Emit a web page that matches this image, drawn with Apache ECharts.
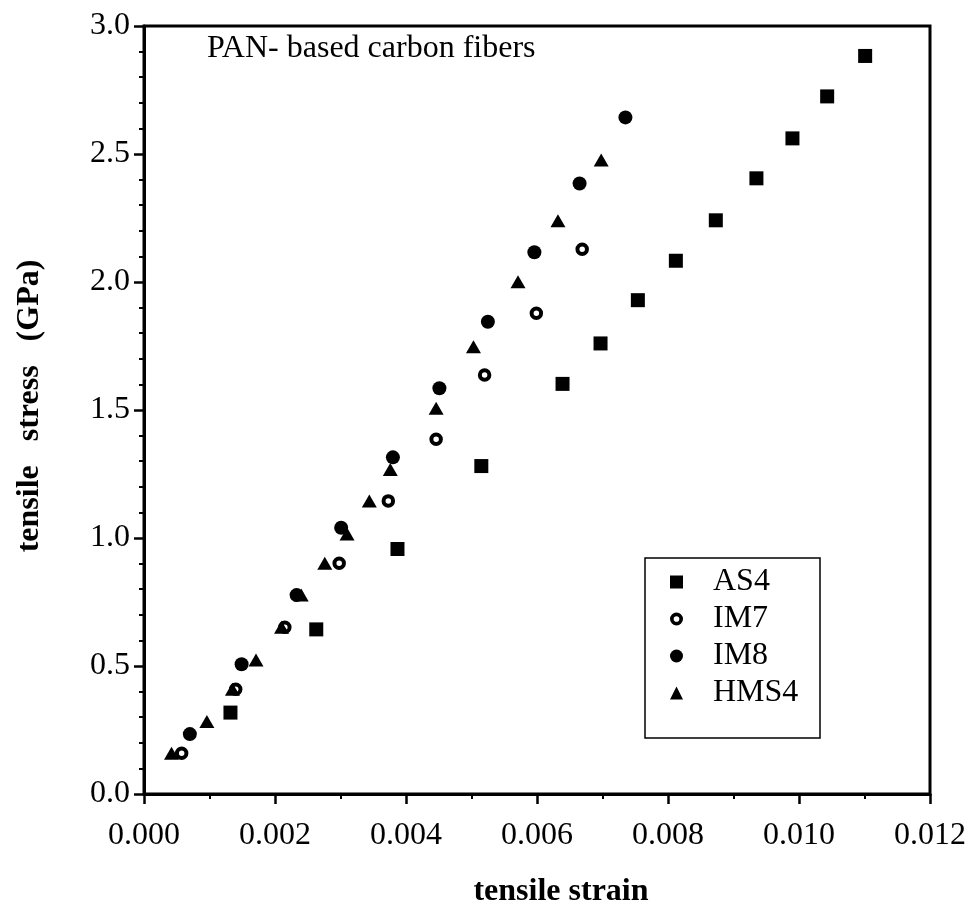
<!DOCTYPE html>
<html>
<head>
<meta charset="utf-8">
<script src="https://cdn.jsdelivr.net/npm/echarts@6/dist/echarts.min.js"></script>
<style>
html,body{margin:0;padding:0;background:#fff;}
#chart{width:969px;height:920px;}
</style>
</head>
<body>
<div id="chart"></div>
<script>
// ---- data ----
const seriesNames = ['AS4', 'IM7', 'IM8', 'HMS4'];

const as4Strain = [0.00132, 0.00263, 0.00387, 0.00515, 0.00639, 0.00697, 0.00754, 0.00812, 0.00873, 0.00935, 0.00990, 0.01043, 0.01101];
const as4Stress = [0.318, 0.643, 0.957, 1.281, 1.602, 1.760, 1.929, 2.083, 2.241, 2.405, 2.561, 2.725, 2.883];

const im7Strain = [0.000575, 0.00140, 0.00215, 0.00298, 0.00373, 0.00446, 0.00520, 0.00599, 0.00669];
const im7Stress = [0.159, 0.409, 0.651, 0.901, 1.145, 1.386, 1.637, 1.878, 2.128];

const im8Strain = [0.00070, 0.00149, 0.00233, 0.00301, 0.00380, 0.00451, 0.00525, 0.00596, 0.00665, 0.00735];
const im8Stress = [0.234, 0.507, 0.777, 1.040, 1.315, 1.585, 1.845, 2.116, 2.385, 2.643];

const hms4Strain = [0.00042, 0.00096, 0.00135, 0.00171, 0.00210, 0.00240, 0.00276, 0.00310, 0.00344, 0.00376, 0.00446, 0.00503, 0.00571, 0.00632, 0.00698];
const hms4Stress = [0.159, 0.283, 0.409, 0.523, 0.651, 0.777, 0.901, 1.016, 1.145, 1.268, 1.507, 1.747, 2.001, 2.239, 2.477];

const xTicks = [0, 0.002, 0.004, 0.006, 0.008, 0.010, 0.012];
const yTicks = [0, 0.5, 1.0, 1.5, 2.0, 2.5, 3.0];

const xTitle = 'tensile strain';
const yTitle = 'tensile   stress   (GPa)';
const note = 'PAN- based carbon fibers';

// ---- chart ----
const pair = (xs, ys) => xs.map((x, i) => [x, ys[i]]);
const FONT = '"Liberation Serif", "Times New Roman", serif';
const ringIcon = 'path://M0,-6A6,6 0 1,1 0,6A6,6 0 1,1 0,-6ZM0,-2.6A2.6,2.6 0 1,0 0,2.6A2.6,2.6 0 1,0 0,-2.6Z';

const chart = echarts.init(document.getElementById('chart'), null, {renderer: 'canvas'});

const axisCommon = {
  splitLine: {show: false},
  axisLine: {lineStyle: {color: '#000', width: 3}},
  axisTick: {inside: false, length: 10, lineStyle: {color: '#000', width: 2.5}},
  minorTick: {show: true, length: 5, lineStyle: {color: '#000', width: 2}},
  axisLabel: {color: '#000', fontFamily: FONT, fontSize: 32}
};

const option = {
  animation: false,
  backgroundColor: '#fff',
  grid: {left: 144, right: 38, top: 26, bottom: 126, show: true, borderColor: '#000', borderWidth: 3, backgroundColor: 'transparent'},
  xAxis: Object.assign({}, axisCommon, {
    type: 'value', min: xTicks[0], max: xTicks[xTicks.length - 1], interval: xTicks[1] - xTicks[0],
    minorTick: Object.assign({}, axisCommon.minorTick, {splitNumber: 2}),
    axisLabel: Object.assign({}, axisCommon.axisLabel, {margin: 26, formatter: v => v.toFixed(3)})
  }),
  yAxis: Object.assign({}, axisCommon, {
    type: 'value', min: yTicks[0], max: yTicks[yTicks.length - 1], interval: yTicks[1] - yTicks[0],
    minorTick: Object.assign({}, axisCommon.minorTick, {splitNumber: 5}),
    axisLabel: Object.assign({}, axisCommon.axisLabel, {margin: 14, formatter: v => v.toFixed(1)})
  }),
  legend: {
    orient: 'vertical', left: 670, top: 566, padding: 0,
    itemWidth: 13, itemHeight: 13, itemGap: 5,
    textStyle: {color: '#000', fontFamily: FONT, fontSize: 32, padding: [0, 0, 0, 25]},
    data: [
      {name: 'AS4', icon: 'rect', itemStyle: {color: '#000', opacity: 1}},
      {name: 'IM7', icon: ringIcon, itemStyle: {color: '#000', borderWidth: 0, opacity: 1}},
      {name: 'IM8', icon: 'circle', itemStyle: {color: '#000', opacity: 1}},
      {name: 'HMS4', icon: 'triangle', itemStyle: {color: '#000', opacity: 1}}
    ]
  },
  graphic: [
    {type: 'rect', shape: {x: 645, y: 558, width: 175, height: 180}, style: {fill: 'none', stroke: '#000', lineWidth: 1.5}, z: 10},
    {type: 'text', x: 207, y: 49, style: {text: note, font: '32px ' + FONT, fill: '#000', textVerticalAlign: 'middle'}},
    {type: 'text', x: 561, y: 892, style: {text: xTitle, font: 'bold 32px ' + FONT, fill: '#000', textAlign: 'center', textVerticalAlign: 'middle'}},
    {type: 'text', x: 30, y: 406, rotation: Math.PI / 2, style: {text: yTitle, font: 'bold 32px ' + FONT, fill: '#000', textAlign: 'center', textVerticalAlign: 'middle'}}
  ],
  series: [
    {name: 'AS4', type: 'scatter', symbol: 'rect', symbolSize: 14, itemStyle: {color: '#000', opacity: 1}, data: pair(as4Strain, as4Stress)},
    {name: 'IM7', type: 'scatter', symbol: 'circle', symbolSize: 9.5, itemStyle: {color: '#fff', borderColor: '#000', borderWidth: 4, opacity: 1}, data: pair(im7Strain, im7Stress)},
    {name: 'IM8', type: 'scatter', symbol: 'circle', symbolSize: 14, itemStyle: {color: '#000', opacity: 1}, data: pair(im8Strain, im8Stress)},
    {name: 'HMS4', type: 'scatter', symbol: 'triangle', symbolSize: [15, 13], itemStyle: {color: '#000', opacity: 1}, data: pair(hms4Strain, hms4Stress)}
  ]
};

chart.setOption(option);
</script>
</body>
</html>
